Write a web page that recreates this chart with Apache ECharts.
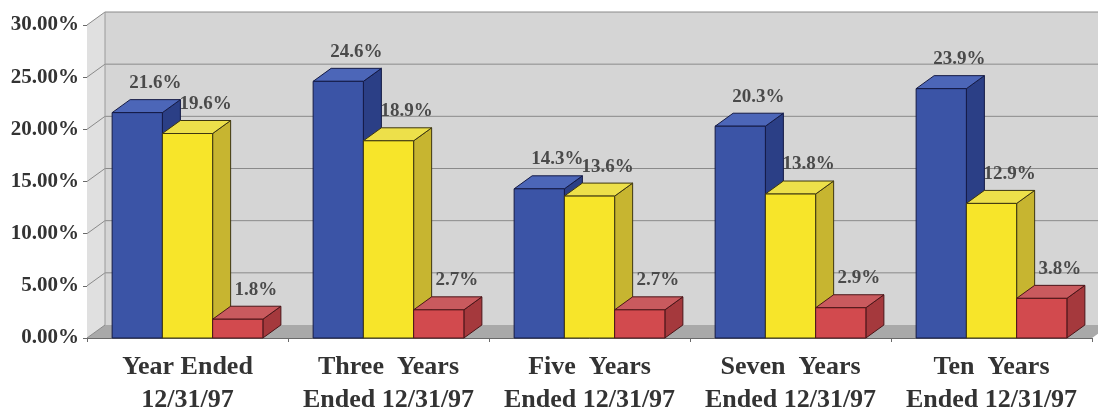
<!DOCTYPE html>
<html>
<head>
<meta charset="utf-8">
<script src="https://cdn.jsdelivr.net/npm/echarts@6/dist/echarts.min.js"></script>
<style>
  html, body { margin: 0; padding: 0; background: #ffffff; }
  #chart { width: 1098px; height: 417px; }
</style>
</head>
<body>
<div id="chart"></div>
<script>
// Annualized returns by holding period
const categories = [
  'Year Ended\n12/31/97',
  'Three  Years\nEnded 12/31/97',
  'Five  Years\nEnded 12/31/97',
  'Seven  Years\nEnded 12/31/97',
  'Ten  Years\nEnded 12/31/97'
];
const blueValues   = [21.6, 24.6, 14.3, 20.3, 23.9];
const yellowValues = [19.6, 18.9, 13.6, 13.8, 12.9];
const redValues    = [1.8, 2.7, 2.7, 2.9, 3.8];
const yTicks = [0, 5, 10, 15, 20, 25, 30];

// 3D look: offset of the back plane from the front plane (pixels)
const DX = 18, DY = -13;
const SERIF = '"Liberation Serif", "Times New Roman", serif';

const palettes = [
  { front: '#3b54a6', side: '#2b3f86', top: '#4c66b8', edge: '#141a45' },
  { front: '#f7e52a', side: '#c7b530', top: '#ede04a', edge: '#3d3610' },
  { front: '#d24a4e', side: '#a5393d', top: '#c95a5e', edge: '#4a1518' }
];

function bandInfo(api, idx) {
  const base = api.coord([idx, 0]);
  const band = api.size([1, 0])[0];
  return { cx: base[0], y0: base[1], band: band };
}

// Back wall, side wall, floor and gridlines
function renderWalls(params, api) {
  const first = bandInfo(api, 0);
  const last = bandInfo(api, categories.length - 1);
  const L = first.cx - first.band / 2;
  const R = last.cx + last.band / 2;
  const y0 = first.y0;
  const yTop = api.coord([0, yTicks[yTicks.length - 1]])[1];
  const children = [];
  // back wall
  children.push({ type: 'rect', shape: { x: L + DX, y: yTop + DY, width: R - L, height: y0 - yTop },
    style: { fill: '#d5d5d5' } });
  // left side wall
  children.push({ type: 'polygon', shape: { points: [[L, y0], [L, yTop], [L + DX, yTop + DY], [L + DX, y0 + DY]] },
    style: { fill: '#e0e0e0' } });
  // floor
  children.push({ type: 'polygon', shape: { points: [[L, y0], [L + DX, y0 + DY], [R + DX, y0 + DY], [R, y0]] },
    style: { fill: '#a9a9a9' } });
  // gridlines
  yTicks.forEach(function (v) {
    const y = api.coord([0, v])[1];
    if (v > 0) {
      children.push({ type: 'line', shape: { x1: L + DX, y1: y + DY, x2: R + DX, y2: y + DY },
        style: { stroke: '#8a8a8a', lineWidth: 1 } });
    }
    children.push({ type: 'line', shape: { x1: L, y1: y, x2: L + DX, y2: y + DY },
      style: { stroke: '#8a8a8a', lineWidth: 1 } });
  });
  children.push({ type: 'line', shape: { x1: L + DX, y1: yTop + DY, x2: L + DX, y2: y0 + DY },
    style: { stroke: '#9a9a9a', lineWidth: 1 } });
  return { type: 'group', children: children };
}

function makeBarRenderer(slot) {
  const pal = palettes[slot];
  return function (params, api) {
    const idx = api.value(0);
    const val = api.value(1);
    const b = bandInfo(api, idx);
    const w = b.band * 0.25;
    const left = b.cx + (slot - 1) * w - w / 2;
    const right = left + w;
    const top = api.coord([idx, val])[1];
    const bottom = b.y0;
    const edge = { stroke: pal.edge, lineWidth: 1, lineJoin: 'round' };
    return {
      type: 'group',
      children: [
        { type: 'polygon', shape: { points: [[right, bottom], [right, top], [right + DX, top + DY], [right + DX, bottom + DY]] },
          style: Object.assign({ fill: pal.side }, edge) },
        { type: 'polygon', shape: { points: [[left, top], [left + DX, top + DY], [right + DX, top + DY], [right, top]] },
          style: Object.assign({ fill: pal.top }, edge) },
        { type: 'rect', shape: { x: left, y: top, width: w, height: bottom - top },
          style: Object.assign({ fill: pal.front }, edge) },
        { type: 'text', z2: 100,
          style: { x: (left + right) / 2 + DX, y: top + DY - 7, text: val.toFixed(1) + '%',
            font: 'bold 19px ' + SERIF, fill: '#4a4a4a', align: 'center', verticalAlign: 'bottom' } }
      ]
    };
  };
}

function toPairs(arr) { return arr.map(function (v, i) { return [i, v]; }); }

const chart = echarts.init(document.getElementById('chart'), null, { renderer: 'canvas' });
chart.setOption({
  backgroundColor: '#ffffff',
  animation: false,
  grid: { left: 87, right: 6, top: 25, bottom: 79 },
  xAxis: {
    type: 'category',
    data: categories,
    axisLine: { show: true, lineStyle: { color: '#6a6a6a', width: 1 } },
    axisTick: { show: true, length: 4, lineStyle: { color: '#6a6a6a' } },
    axisLabel: { interval: 0, margin: 13, fontFamily: SERIF, fontWeight: 'bold', fontSize: 26, lineHeight: 33, color: '#333333' },
    splitLine: { show: false }
  },
  yAxis: {
    type: 'value',
    min: yTicks[0],
    max: yTicks[yTicks.length - 1],
    interval: yTicks[1] - yTicks[0],
    axisLine: { show: true, lineStyle: { color: '#6a6a6a', width: 1 } },
    axisTick: { show: true, length: 4, lineStyle: { color: '#6a6a6a' } },
    axisLabel: { margin: 8, fontFamily: SERIF, fontWeight: 'bold', fontSize: 21, color: '#333333',
      formatter: function (v) { return v.toFixed(2) + '%'; } },
    splitLine: { show: false }
  },
  series: [
    { type: 'custom', name: 'walls', z: 1, clip: false, renderItem: renderWalls, data: [[0, 0]], silent: true },
    { type: 'custom', name: 'blue', z: 2, clip: false, renderItem: makeBarRenderer(0), data: toPairs(blueValues) },
    { type: 'custom', name: 'yellow', z: 3, clip: false, renderItem: makeBarRenderer(1), data: toPairs(yellowValues) },
    { type: 'custom', name: 'red', z: 4, clip: false, renderItem: makeBarRenderer(2), data: toPairs(redValues) }
  ]
});
</script>
</body>
</html>
